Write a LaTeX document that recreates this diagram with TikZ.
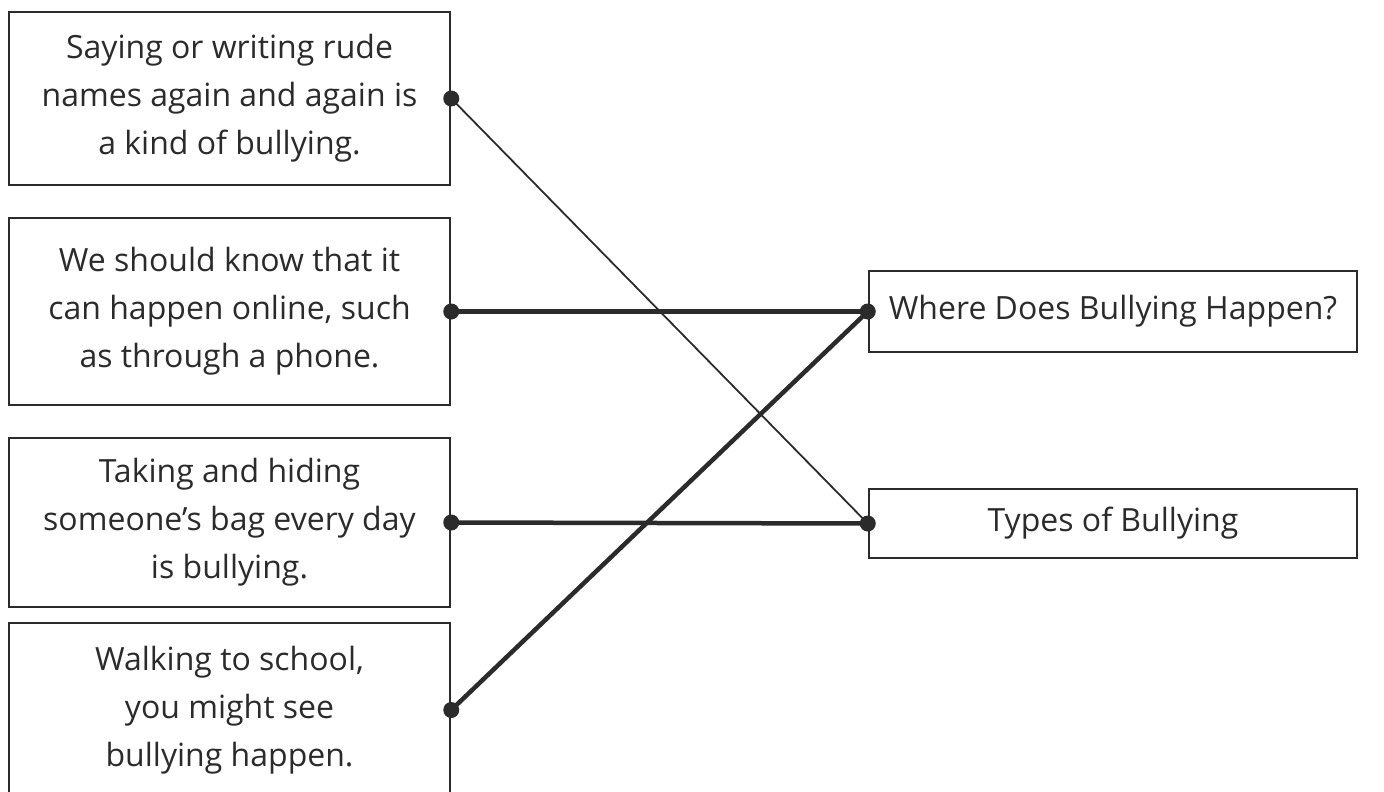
\documentclass[tikz,border=0pt]{standalone}
\usepackage{fontspec}
\setmainfont{Open Sans}
\definecolor{ink}{HTML}{2B2B2B}
\begin{document}
\begin{tikzpicture}[x=1pt,y=-1pt,
  card/.style={draw=ink,line width=2.5pt,text=ink,align=center,inner sep=0pt,
    font=\fontsize{32}{48}\selectfont},
  thickline/.style={draw=ink,line width=4.5pt},
  thinline/.style={draw=ink,line width=1.8pt},
  dot/.style={fill=ink,circle,inner sep=0pt,minimum size=16pt}]
\useasboundingbox (0,0) rectangle (1384,792);
\clip (0,0) rectangle (1384,792);
\node[card,minimum width=441pt,minimum height=173pt] (b1) at (229.5,98.5)
  {Saying or writing rude\\names again and again is\\a kind of bullying.};
\node[card,minimum width=441pt,minimum height=187pt] (b2) at (229.5,311.5)
  {We should know that it\\can happen online, such\\as through a phone.};
\node[card,minimum width=441pt,minimum height=169pt] (b3) at (229.5,522.5)
  {Taking and hiding\\someone’s bag every day\\is bullying.};
\node[card,minimum width=441pt,minimum height=174pt] (b4) at (229.5,710)
  {Walking to school,\\you might see\\bullying happen.};
\node[card,minimum width=488pt,minimum height=81pt] (where) at (1113,311.5)
  {Where Does Bullying Happen?};
\node[card,minimum width=488pt,minimum height=69pt] (types) at (1113,523.5)
  {Types of Bullying};
\draw[thinline] (b1.east) -- (types.west);
\draw[thickline] (b2.east) -- (where.west);
\draw[thickline] (b3.east) -- (types.west);
\draw[thickline] (b4.east) -- (where.west);
\foreach \n in {b1,b2,b3,b4} {
  \node[dot] at (\n.east) {};
}
\node[dot] at (where.west) {};
\node[dot] at (types.west) {};
\end{tikzpicture}
\end{document}
